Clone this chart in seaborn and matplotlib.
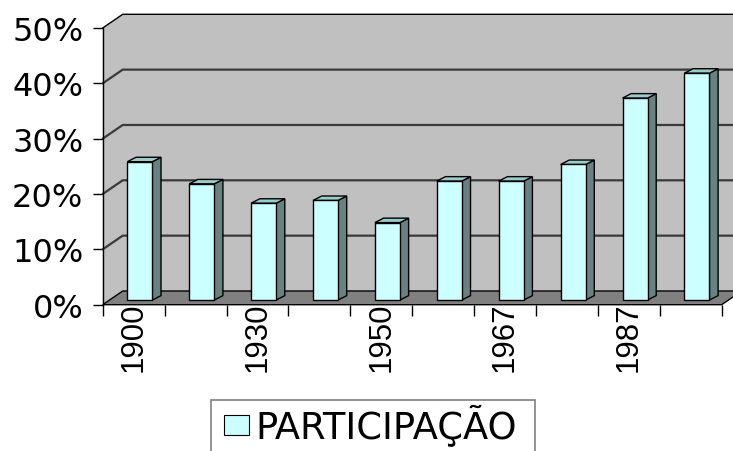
import numpy as np
import pandas as pd
import matplotlib
matplotlib.use("Agg")
import matplotlib.pyplot as plt
from matplotlib.patches import Polygon, Patch, Rectangle
from matplotlib.lines import Line2D
from matplotlib.ticker import PercentFormatter
import seaborn as sns

# Participação por ano (em %)
anos = ["1900", "1920", "1930", "1940", "1950", "1960", "1967", "1977", "1987", "1997"]
participacao = [25, 21, 17.5, 18, 14, 21.5, 21.5, 24.5, 36.5, 41]
anos_rotulados = ["1900", "1930", "1950", "1967", "1987"]
escala_y = [0, 10, 20, 30, 40, 50]
serie = "PARTICIPAÇÃO"

sns.set_theme(style="white")
plt.rcParams["font.family"] = ["DejaVu Sans"]

W, H = 733, 452
fig = plt.figure(figsize=(W / 100, H / 100), dpi=100)
fig.patch.set_facecolor("white")
ax = fig.add_axes([102.7 / W, (H - 305.7) / H, 619 / W, 276.7 / H])

df = pd.DataFrame({"ano": anos, "valor": participacao})
sns.barplot(data=df, x="ano", y="valor", color="#ccffff", saturation=1,
            width=0.404, edgecolor="black", linewidth=1, ax=ax)
barras = list(ax.patches)

x0, x1 = -0.5, len(anos) - 0.5
ytop = escala_y[-1]
ax.set_xlim(x0, x1)
ax.set_ylim(0, ytop)
ax.set_facecolor("none")

# oblique depth of the walls, offset of the bar fronts, and bar depth
DX, DY = 0.323, 2.476
FX, FY = 0.10, 0.84
BX, BY = 0.14, 0.80

# side + back wall
ax.add_patch(Polygon([(x0, 0), (x0, ytop), (x0 + DX, ytop + DY), (x1 + DX, ytop + DY),
                      (x1 + DX, DY), (x0 + DX, DY)], closed=True,
                     facecolor="#c0c0c0", edgecolor="none", clip_on=False, zorder=0))
# floor
ax.add_patch(Polygon([(x0, 0), (x1, 0), (x1 + DX, DY), (x0 + DX, DY)], closed=True,
                     facecolor="#808080", edgecolor="black", linewidth=1,
                     clip_on=False, zorder=1))
# gridlines running across the side and back walls
for v in escala_y[1:-1]:
    ax.add_line(Line2D([x0, x0 + DX, x1 + DX], [v, v + DY, v + DY],
                       color="#3a3a3a", linewidth=1.6, clip_on=False, zorder=2))
ax.add_line(Line2D([x0, x0 + DX, x1 + DX], [ytop, ytop + DY, ytop + DY],
                   color="black", linewidth=1, clip_on=False, zorder=2))

# give every bar its side and top faces
for p in barras:
    x = p.get_x() + FX
    w = p.get_width()
    h = p.get_height()
    p.set_x(x)
    p.set_y(FY)
    p.set_zorder(5)
    ax.add_patch(Polygon([(x + w, FY), (x + w + BX, FY + BY), (x + w + BX, FY + h + BY),
                          (x + w, FY + h)], closed=True, facecolor="#688282",
                         edgecolor="black", linewidth=1, zorder=4))
    ax.add_patch(Polygon([(x, FY + h), (x + BX, FY + h + BY), (x + w + BX, FY + h + BY),
                          (x + w, FY + h)], closed=True, facecolor="#99cccc",
                         edgecolor="black", linewidth=1, zorder=4))

for s in ["top", "right", "bottom"]:
    ax.spines[s].set_visible(False)
ax.spines["left"].set_color("black")
ax.spines["left"].set_linewidth(1)
ax.spines["left"].set_zorder(3)

ax.set_xlabel("")
ax.set_ylabel("")

ax.set_yticks(escala_y)
ax.yaxis.set_major_formatter(PercentFormatter(xmax=100, decimals=0))
ax.tick_params(axis="y", left=True, direction="out", length=7.5, width=1,
               color="black", labelsize=23, pad=6.5, labelcolor="black")

ax.set_xticks(np.arange(x0, x1 + 0.01, 1.0), labels=[""] * (len(anos) + 1))
posicoes = [anos.index(a) for a in anos_rotulados]
ax.set_xticks(posicoes, labels=anos_rotulados, minor=True)
ax.tick_params(axis="x", which="major", bottom=True, direction="out", length=8,
               width=1, color="black")
ax.tick_params(axis="x", which="minor", bottom=True, length=0, pad=-2.5,
               labelrotation=90, labelcolor="black")
for t in ax.get_xticklabels(minor=True):
    t.set_fontfamily(["Liberation Sans", "DejaVu Sans"])
    t.set_fontsize(22.5)

# legend: entry placed inside a wide box that runs past the bottom edge
leg = fig.legend(handles=[Patch(facecolor="#ccffff", edgecolor="black", linewidth=0.8)],
                 labels=[serie], loc="upper left",
                 bbox_to_anchor=(224 / W, 1 - 405 / H), bbox_transform=fig.transFigure,
                 borderaxespad=0, frameon=False, fontsize=26.5, handlelength=0.68,
                 handleheight=0.45, handletextpad=0.17, borderpad=0,
                 labelcolor="black")
fig.add_artist(Rectangle((211 / W, 1 - 470 / H), 324 / W, 69 / H,
                         transform=fig.transFigure, fill=False,
                         edgecolor="#808080", linewidth=1.2))

fig.savefig("out.png", dpi=100)
